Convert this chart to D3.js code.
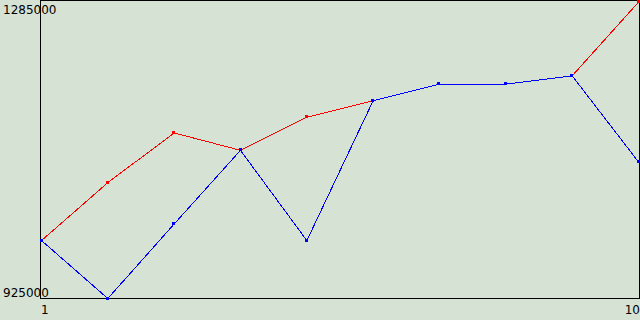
<!DOCTYPE html>
<html>
<head>
<meta charset="utf-8">
<script src="https://cdn.jsdelivr.net/npm/d3@7"></script>
<style>
  html, body { margin: 0; padding: 0; background: #d6e2d4; }
  svg { display: block; }
</style>
</head>
<body>
<div id="chart"></div>
<script>
// Two series over 10 steps, red drawn under blue
const categories = [1, 2, 3, 4, 5, 6, 7, 8, 9, 10];
const redValues  = [995000, 1065000, 1125000, 1104000, 1144000, 1164000, 1184000, 1184000, 1194000, 1283000];
const blueValues = [995000, 925000, 1015000, 1104000, 995000, 1164000, 1184000, 1184000, 1194000, 1090000];
const yTicks = [925000, 1285000];
const xTicks = [1, 10];

const width = 640, height = 320;
const bg = '#d6e2d4';

const svg = d3.select('#chart')
  .append('svg')
  .attr('width', width)
  .attr('height', height)
  .style('font-family', '"DejaVu Sans", sans-serif')
  .style('font-size', '12px');

svg.append('rect')
  .attr('width', width)
  .attr('height', height)
  .attr('fill', bg);

const x = d3.scaleLinear().domain([1, 10]).range([41.5, 638.5]);
const y = d3.scaleLinear().domain([925000, 1285000]).range([298.5, 0.5]);

// frame
svg.append('rect')
  .attr('x', 40.5)
  .attr('y', 0.5)
  .attr('width', 599)
  .attr('height', 298)
  .attr('fill', 'none')
  .attr('stroke', '#000')
  .attr('stroke-width', 1);

// y labels (min sits above the baseline, max hangs below the top)
svg.selectAll('text.ylab')
  .data(yTicks)
  .join('text')
  .attr('class', 'ylab')
  .attr('x', 3)
  .attr('y', (d, i) => y(d) + (i === 0 ? -1.5 : 13.5))
  .attr('fill', '#000')
  .text(d => d);

// x labels
svg.selectAll('text.xlab')
  .data(xTicks)
  .join('text')
  .attr('class', 'xlab')
  .attr('x', (d, i) => i === 0 ? x(d) - 0.5 : 640)
  .attr('y', 314)
  .attr('text-anchor', (d, i) => i === 0 ? 'start' : 'end')
  .attr('fill', '#000')
  .text(d => d);

const line = d3.line()
  .x((d, i) => x(categories[i]))
  .y(d => y(d));

function drawSeries(values, color) {
  svg.append('path')
    .datum(values)
    .attr('d', line)
    .attr('fill', 'none')
    .attr('stroke', color)
    .attr('stroke-width', 1)
    .attr('shape-rendering', 'crispEdges');
  svg.append('g')
    .selectAll('rect')
    .data(values)
    .join('rect')
    .attr('x', (d, i) => Math.round(x(categories[i])) - 2)
    .attr('y', d => Math.round(y(d)) - 2)
    .attr('width', 3)
    .attr('height', 3)
    .attr('fill', color)
    .attr('shape-rendering', 'crispEdges');
}

drawSeries(redValues, '#ff0000');
drawSeries(blueValues, '#0000ff');
</script>
</body>
</html>
